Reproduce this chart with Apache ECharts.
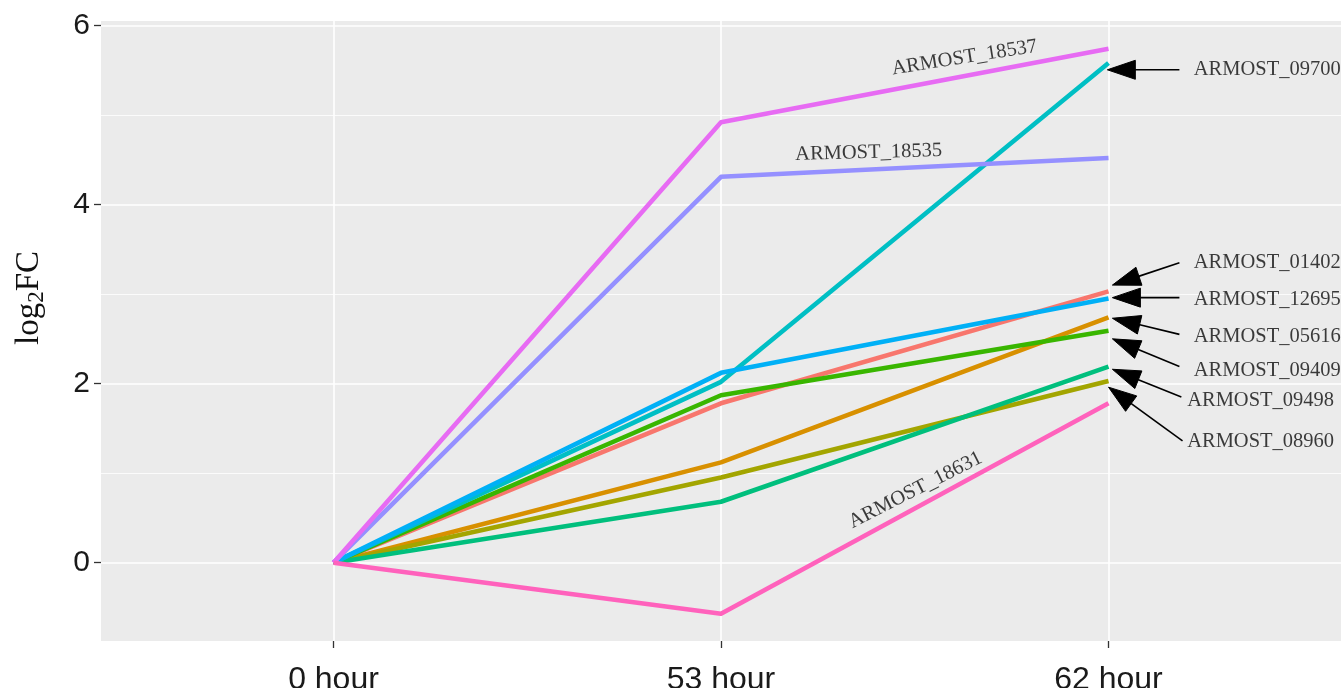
<!DOCTYPE html>
<html>
<head>
<meta charset="utf-8">
<script src="https://cdn.jsdelivr.net/npm/echarts@6/dist/echarts.min.js"></script>
<style>
  html, body { margin: 0; padding: 0; background: #ffffff; }
  #chart { width: 1344px; height: 688px; }
</style>
</head>
<body>
<div id="chart"></div>
<script>
// Time points (x categories)
const hours = ['0 hour', '53 hour', '62 hour'];

// log2 fold change per gene at 0 h, 53 h and 62 h
const ARMOST_01402 = [0, 1.78, 3.03];
const ARMOST_05616 = [0, 1.12, 2.74];
const ARMOST_08960 = [0, 0.95, 2.03];
const ARMOST_09409 = [0, 1.87, 2.59];
const ARMOST_09498 = [0, 0.68, 2.19];
const ARMOST_09700 = [0, 2.02, 5.58];
const ARMOST_12695 = [0, 2.12, 2.95];
const ARMOST_18535 = [0, 4.31, 4.52];
const ARMOST_18537 = [0, 4.92, 5.74];
const ARMOST_18631 = [0, -0.57, 1.78];

const geneNames = ['ARMOST_01402', 'ARMOST_05616', 'ARMOST_08960', 'ARMOST_09409', 'ARMOST_09498',
                   'ARMOST_09700', 'ARMOST_12695', 'ARMOST_18535', 'ARMOST_18537', 'ARMOST_18631'];
const geneValues = [ARMOST_01402, ARMOST_05616, ARMOST_08960, ARMOST_09409, ARMOST_09498,
                    ARMOST_09700, ARMOST_12695, ARMOST_18535, ARMOST_18537, ARMOST_18631];

// y tick labels
const yTicks = [0, 2, 4, 6];
const yMinorTicks = [1, 3, 5];

// hue palette, one colour per gene
const palette = ['#F8766D', '#D89000', '#A3A500', '#39B600', '#00BF7D',
                 '#00BFC4', '#00B0F6', '#9590FF', '#E76BF3', '#FF62BC'];

// Text annotations: [name, x, y, rotation in degrees, placement]
const textNotes = [
  ['ARMOST_18537', 1.628, 5.64, 9, 'inside'],
  ['ARMOST_18535', 1.381, 4.58, 1.5, 'inside'],
  ['ARMOST_18631', 1.502, 0.81, 27, 'inside'],
  ['ARMOST_09700', 2.220, 5.505, 0, 'right'],
  ['ARMOST_01402', 2.220, 3.35, 0, 'right'],
  ['ARMOST_12695', 2.220, 2.935, 0, 'right'],
  ['ARMOST_05616', 2.220, 2.53, 0, 'right'],
  ['ARMOST_09409', 2.220, 2.14, 0, 'right'],
  ['ARMOST_09498', 2.203, 1.81, 0, 'right'],
  ['ARMOST_08960', 2.203, 1.35, 0, 'right']
];

// Arrow segments: [x, y, xend, yend]
const arrowNotes = [
  [2.183, 5.505, 1.997, 5.505],
  [2.183, 3.35, 2.010, 3.10],
  [2.183, 2.96, 2.010, 2.96],
  [2.183, 2.55, 2.010, 2.73],
  [2.183, 2.19, 2.010, 2.50],
  [2.188, 1.85, 2.010, 2.16],
  [2.191, 1.36, 2.000, 1.96]
];

const serif = '"Liberation Serif", "Times New Roman", serif';
const sans = '"Liberation Sans", Arial, sans-serif';

const chart = echarts.init(document.getElementById('chart'), null, { renderer: 'canvas' });

const lineSeries = geneNames.map((name, i) => ({
  name: name,
  type: 'line',
  data: geneValues[i].map((v, j) => [j, v]),
  showSymbol: false,
  symbol: 'none',
  lineStyle: { color: palette[i], width: 4.6, cap: 'butt', join: 'round' },
  itemStyle: { color: palette[i] },
  silent: true,
  z: 2 + i * 0.01
}));

const noteSeries = {
  name: 'notes',
  type: 'scatter',
  symbolSize: 0,
  silent: true,
  z: 5,
  data: textNotes.map(n => ({
    name: n[0],
    value: [n[1], n[2]],
    label: {
      show: true,
      formatter: '{b}',
      position: n[4],
      distance: 0,
      rotate: n[3],
      fontFamily: serif,
      fontSize: 20.5,
      color: '#0d0d0d'
    }
  }))
};

// Arrow: shaft plus closed triangular head whose tip sits on the end point
const HEAD_LEN = 28, HEAD_HALF = 9.5;
const arrowSeries = {
  name: 'arrows',
  type: 'custom',
  silent: true,
  z: 6,
  clip: false,
  encode: { x: [0, 2], y: [1, 3] },
  data: arrowNotes,
  renderItem: function (params, api) {
    const p0 = api.coord([api.value(0), api.value(1)]);
    const p1 = api.coord([api.value(2), api.value(3)]);
    const dx = p1[0] - p0[0], dy = p1[1] - p0[1];
    const len = Math.sqrt(dx * dx + dy * dy);
    const ux = dx / len, uy = dy / len;
    const bx = p1[0] - ux * HEAD_LEN, by = p1[1] - uy * HEAD_LEN;
    const nx = -uy, ny = ux;
    return {
      type: 'group',
      children: [{
        type: 'line',
        shape: { x1: p0[0], y1: p0[1], x2: bx + ux * 2, y2: by + uy * 2 },
        style: { stroke: '#000000', lineWidth: 1.6 }
      }, {
        type: 'polygon',
        shape: { points: [[p1[0], p1[1]], [bx + nx * HEAD_HALF, by + ny * HEAD_HALF], [bx - nx * HEAD_HALF, by - ny * HEAD_HALF]] },
        style: { fill: '#000000', stroke: '#000000', lineWidth: 1 }
      }]
    };
  }
};

chart.setOption({
  animation: false,
  backgroundColor: '#ffffff',
  grid: {
    left: 101, right: 3, top: 21, bottom: 47,
    outerBoundsMode: 'none',
    containLabel: false,
    show: true, backgroundColor: '#EBEBEB', borderWidth: 0
  },
  xAxis: {
    type: 'value',
    min: -0.6, max: 2.6,
    axisLine: { show: false, onZero: false },
    axisTick: { show: true, length: 7, customValues: [0, 1, 2], lineStyle: { color: '#333333', width: 1.3 } },
    axisLabel: {
      customValues: [0, 1, 2],
      formatter: v => hours[Math.round(v)],
      fontFamily: sans, fontSize: 32, color: '#1a1a1a', margin: 23
    },
    splitLine: { show: true, lineStyle: { color: '#ffffff', width: 1.6 } }
  },
  yAxis: [{
    type: 'value',
    min: -0.875, max: 6.05,
    axisLine: { show: false, onZero: false },
    axisTick: { show: true, length: 7, customValues: yTicks, lineStyle: { color: '#333333', width: 1.3 } },
    axisLabel: {
      customValues: yTicks,
      fontFamily: sans, fontSize: 30, color: '#1a1a1a', margin: 11
    },
    splitLine: { show: true, lineStyle: { color: '#ffffff', width: 1.6 } }
  }, {
    type: 'value',
    position: 'left',
    min: -0.875, max: 6.05,
    axisLine: { show: false, onZero: false },
    axisTick: { show: false, customValues: yMinorTicks },
    axisLabel: { show: false, customValues: yMinorTicks },
    splitLine: { show: true, lineStyle: { color: '#ffffff', width: 0.8 } }
  }],
  graphic: [{
    type: 'text',
    x: 29, y: 298,
    rotation: Math.PI / 2,
    silent: true,
    style: {
      text: '{a|log}{b|2}{a|FC}',
      align: 'center',
      verticalAlign: 'middle',
      fill: '#111111',
      rich: {
        a: { fontFamily: serif, fontSize: 33, fill: '#111111', color: '#111111' },
        b: { fontFamily: serif, fontSize: 23, fill: '#111111', color: '#111111', padding: [16, 0, 0, 0] }
      }
    }
  }],
  series: lineSeries.concat([noteSeries, arrowSeries])
});
</script>
</body>
</html>
